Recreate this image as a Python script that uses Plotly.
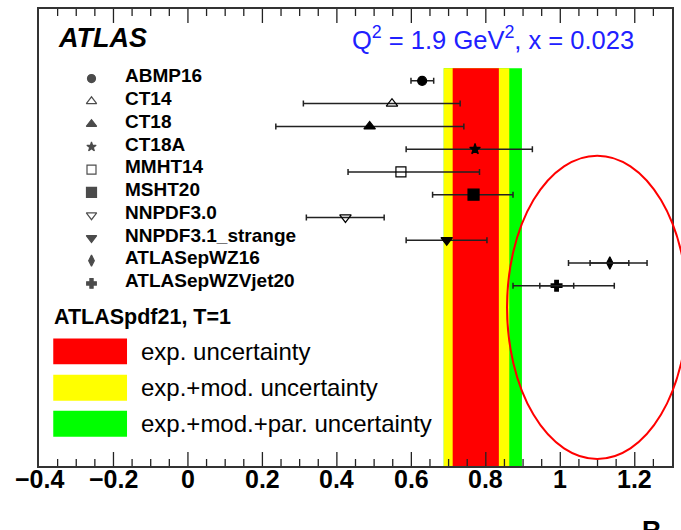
import numpy as np
import plotly.graph_objects as go

# ---------------- data ----------------
pdf_sets = ["ABMP16", "CT14", "CT18", "CT18A", "MMHT14", "MSHT20",
            "NNPDF3.0", "NNPDF3.1_strange", "ATLASepWZ16", "ATLASepWZVjet20"]
central = [0.629, 0.548, 0.488, 0.771, 0.572, 0.767, 0.423, 0.695, 1.133, 0.990]
err_low = [0.599, 0.310, 0.236, 0.586, 0.430, 0.657, 0.318, 0.586, 1.022, 0.873]
err_high = [0.660, 0.731, 0.741, 0.925, 0.783, 0.873, 0.527, 0.803, 1.233, 1.145]
symbols = ["circle", "triangle-up-open", "triangle-up", "star", "square-open",
           "square", "triangle-down-open", "triangle-down", "diamond-tall", "cross"]
marker_sizes = [9, 10, 10, 8, 10, 11, 10, 10, 9, 9]

atlas_sets = ["ATLASepWZ16", "ATLASepWZVjet20"]
atlas_central = [1.133, 0.990]
atlas_inner_low = [1.080, 0.945]
atlas_inner_high = [1.184, 1.036]

band_exp = [0.711, 0.835]        # red
band_mod = [0.687, 0.863]        # yellow
band_par = [0.687, 0.897]        # green

x_range = [-0.4, 1.3]
x_major_ticks = [-0.4, -0.2, 0.0, 0.2, 0.4, 0.6, 0.8, 1.0, 1.2]
x_tick_labels = ["\u22120.4", "\u22120.2", "0", "0.2", "0.4", "0.6", "0.8", "1", "1.2"]
x_minor_step = 0.05

# ---------------- layout helpers ----------------
W, H = 681, 530
L, R, T, B = 39, 674, 8, 466
Y_RANGE = [16.92, -3.157]          # rows axis (reversed)
ROW_PX = (B - T) / (Y_RANGE[0] - Y_RANGE[1])


def px(x):
    return (x - L) / (R - L)


def py(y):
    return (B - y) / (B - T)


rows = list(range(len(pdf_sets)))

fig = go.Figure()

# outer error bars + markers
for i, name in enumerate(pdf_sets):
    fig.add_trace(go.Scatter(
        x=[central[i]], y=[rows[i]], mode="markers",
        marker=dict(symbol=symbols[i], size=marker_sizes[i], color="black",
                    line=dict(color="black", width=1.2)),
        error_x=dict(type="data", symmetric=False,
                     array=[err_high[i] - central[i]],
                     arrayminus=[central[i] - err_low[i]],
                     color="#222222", thickness=1.5, width=3),
        showlegend=False, hoverinfo="skip"))

# inner error bars for ATLAS fits
for j, name in enumerate(atlas_sets):
    r = pdf_sets.index(name)
    fig.add_trace(go.Scatter(
        x=[atlas_central[j]], y=[r], mode="markers",
        marker=dict(size=1, color="rgba(0,0,0,0)"),
        error_x=dict(type="data", symmetric=False,
                     array=[atlas_inner_high[j] - atlas_central[j]],
                     arrayminus=[atlas_central[j] - atlas_inner_low[j]],
                     color="#222222", thickness=1.5, width=3),
        showlegend=False, hoverinfo="skip"))

# in-plot legend: symbols and labels
fig.add_trace(go.Scatter(
    x=[-0.259] * len(pdf_sets), y=[r - 0.1 for r in rows], mode="markers",
    marker=dict(symbol=symbols, size=[s - 1 for s in marker_sizes], color="black",
                line=dict(color="black", width=1.2)),
    showlegend=False, hoverinfo="skip"))

# axis ticks (inside, bottom and mirrored on top) drawn on the x scale
tick_x, tick_y = [], []
major_len = 14 / ROW_PX
minor_len = 7 / ROW_PX
for v in np.arange(x_range[0], x_range[1] + 1e-9, x_minor_step):
    v = round(float(v), 3)
    if abs(v - x_range[0]) < 1e-6 or abs(v - x_range[1]) < 1e-6:
        continue
    is_major = any(abs(v - m) < 1e-6 for m in x_major_ticks)
    ln = major_len if is_major else minor_len
    tick_x += [v, v, None, v, v, None]
    tick_y += [Y_RANGE[0], Y_RANGE[0] - ln, None, Y_RANGE[1], Y_RANGE[1] + ln, None]
fig.add_trace(go.Scatter(x=tick_x, y=tick_y, mode="lines",
                         line=dict(color="#222222", width=1.3),
                         showlegend=False, hoverinfo="skip", cliponaxis=False))

annotations = []
for i, name in enumerate(pdf_sets):
    annotations.append(dict(x=-0.175, y=rows[i] - 0.22, xref="x", yref="y",
                            text=name, showarrow=False, xanchor="left",
                            yanchor="middle",
                            font=dict(family="Liberation Sans", size=19,
                                      color="black", weight="bold")))

annotations += [
    dict(x=px(56), y=py(37), xref="paper", yref="paper", text="<i>ATLAS</i>",
         showarrow=False, xanchor="left", yanchor="middle",
         font=dict(family="Liberation Sans", size=27, color="black", weight="bold")),
    dict(x=px(638), y=py(37), xref="paper", yref="paper",
         text="Q<sup>2</sup> = 1.9 GeV<sup>2</sup>, x = 0.023",
         showarrow=False, xanchor="right", yanchor="middle",
         font=dict(family="Liberation Sans", size=25.5, color="#2020ff")),
    dict(x=px(52), y=py(317), xref="paper", yref="paper", text="ATLASpdf21, T=1",
         showarrow=False, xanchor="left", yanchor="middle",
         font=dict(family="Liberation Sans", size=21.5, color="black", weight="bold")),
    dict(x=px(653), y=py(513), xref="paper", yref="paper", text="R",
         showarrow=False, xanchor="center", yanchor="top",
         font=dict(family="Liberation Sans", size=26, color="black", weight="bold")),
]

# x tick labels (placed on the x scale)
for v, lab in zip(x_major_ticks, x_tick_labels):
    annotations.append(dict(x=v, y=py(479), xref="x", yref="paper", text=lab,
                            showarrow=False, xanchor="center", yanchor="middle",
                            font=dict(family="Liberation Sans", size=25,
                                      color="black", weight="bold")))

swatches = [("#ff0000", 338.3, 364, "exp. uncertainty"),
            ("#ffff00", 374.5, 400.7, "exp.+mod. uncertainty"),
            ("#00ff00", 410.7, 436.7, "exp.+mod.+par. uncertainty")]

shapes = []
# bands (data): green, then yellow, then red
for band, col in [(band_par, "#00ff00"), (band_mod, "#ffff00"), (band_exp, "#ff0000")]:
    shapes.append(dict(type="rect", xref="x", yref="paper", x0=band[0], x1=band[1],
                       y0=0, y1=py(67.3), fillcolor=col, line=dict(width=0),
                       layer="below"))

for col, y0, y1, label in swatches:
    shapes.append(dict(type="rect", xref="paper", yref="paper",
                       x0=px(53.3), x1=px(127.3), y0=py(y1), y1=py(y0),
                       fillcolor=col, line=dict(width=0)))
    annotations.append(dict(x=px(139), y=py((y0 + y1) / 2), xref="paper", yref="paper",
                            text=label, showarrow=False, xanchor="left",
                            yanchor="middle",
                            font=dict(family="Liberation Sans", size=24,
                                      color="black")))

# red highlight ellipse
shapes.append(dict(type="circle", xref="paper", yref="paper",
                   x0=px(508.5), x1=px(689.5), y0=py(459), y1=py(155),
                   line=dict(color="#ff0000", width=2)))

fig.update_layout(
    width=W, height=H,
    margin=dict(l=L, r=W - R, t=T, b=H - B, pad=0),
    paper_bgcolor="white", plot_bgcolor="white",
    shapes=shapes, annotations=annotations,
)
fig.update_xaxes(range=x_range, showticklabels=False, ticks="",
                 showline=True, linecolor="#333333", linewidth=1.5,
                 mirror=True, showgrid=False, zeroline=False)
fig.update_yaxes(range=Y_RANGE, showticklabels=False, ticks="",
                 showline=True, linecolor="#333333", linewidth=1.5, mirror=True,
                 showgrid=False, zeroline=False)

fig.write_html("out.html")
